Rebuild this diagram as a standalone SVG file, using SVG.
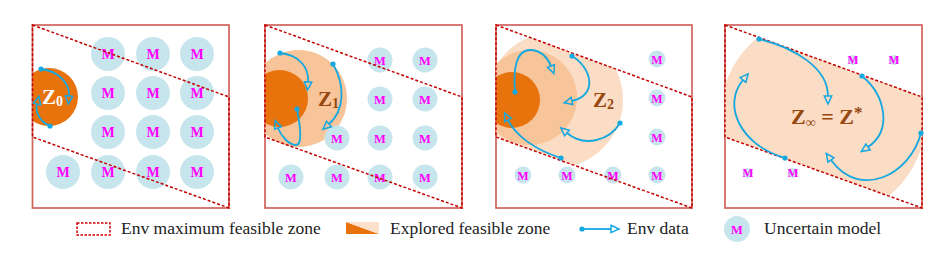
<svg xmlns="http://www.w3.org/2000/svg" width="946" height="260" viewBox="0 0 946 260">
<style>
.box{fill:#fff;stroke:#d0625c;stroke-width:1.7}
.zone{fill:none;stroke:#c40000;stroke-width:1.5;stroke-dasharray:3 2}
.m{fill:#c7e5ed}
.mt{font-family:"Liberation Serif",serif;font-weight:bold;fill:#ff00ff;text-anchor:middle}
.dk{fill:#e8720c}
.md{fill:#f8c49a}
.lt{fill:#fbdcc4}
.arr{fill:none;stroke:#14a8e0;stroke-width:1.8;marker-start:url(#dot);marker-end:url(#head)}
.z{font-family:"Liberation Serif",serif;font-weight:bold;font-size:21px;fill:#96480f}
.lg{font-family:"Liberation Serif",serif;font-size:17.5px;fill:#222}
</style>
<defs>
<marker id="head" markerUnits="userSpaceOnUse" markerWidth="12" markerHeight="10" refX="1" refY="4.5" orient="auto" viewBox="0 0 12 9">
<path d="M1,0.8 L9,4.5 L1,8.2 Z" fill="none" stroke="#14a8e0" stroke-width="1.5" stroke-linejoin="miter"/>
</marker>
<marker id="dot" markerUnits="userSpaceOnUse" markerWidth="6" markerHeight="6" refX="3" refY="3" viewBox="0 0 6 6">
<circle cx="3" cy="3" r="2.6" fill="#14a8e0"/>
</marker>
<clipPath id="c1"><rect x="32.5" y="25" width="196.5" height="183"/></clipPath>
<clipPath id="c2"><rect x="265" y="25" width="197" height="183"/></clipPath>
<clipPath id="c3"><polygon points="496,25 692,97 692,208 496,137"/></clipPath>
<clipPath id="c3b"><rect x="496" y="25" width="196" height="183"/></clipPath>
<clipPath id="c4"><polygon points="725,25 922,97 922,208 725,137"/></clipPath>
</defs>

<g id="panel1">
<rect class="box" x="32.5" y="25" width="196.5" height="183"/>
<circle class="dk" cx="49" cy="97" r="29" clip-path="url(#c1)"/>
<g id="p1-models">
<circle class="m" cx="108" cy="54" r="17"/><circle class="m" cx="153" cy="54" r="17"/><circle class="m" cx="197" cy="54" r="17"/>
<circle class="m" cx="108" cy="93" r="17"/><circle class="m" cx="153" cy="93" r="17"/><circle class="m" cx="197" cy="93" r="17"/>
<circle class="m" cx="108" cy="132" r="17"/><circle class="m" cx="153" cy="132" r="17"/><circle class="m" cx="197" cy="132" r="17"/>
<circle class="m" cx="63" cy="172" r="17"/><circle class="m" cx="108" cy="172" r="17"/><circle class="m" cx="153" cy="172" r="17"/><circle class="m" cx="197" cy="172" r="17"/>
<g class="mt" font-size="14">
<text x="108" y="59">M</text><text x="153" y="59">M</text><text x="197" y="59">M</text>
<text x="108" y="98">M</text><text x="153" y="98">M</text><text x="197" y="98">M</text>
<text x="108" y="137">M</text><text x="153" y="137">M</text><text x="197" y="137">M</text>
<text x="63" y="177">M</text><text x="108" y="177">M</text><text x="153" y="177">M</text><text x="197" y="177">M</text>
</g>
</g>
<polygon class="zone" points="32.5,25 229,97 229,208 32.5,137"/>
<text class="z" x="42" y="104" style="fill:#fff">Z<tspan font-size="14" dy="2">0</tspan></text>
</g>

<g id="panel2">
<rect class="box" x="265" y="25" width="197" height="183"/>
<g clip-path="url(#c2)">
<circle class="md" cx="298.5" cy="98.5" r="48.5"/>
<circle class="dk" cx="279.5" cy="98.5" r="28.5"/>
</g>
<g id="p2-models">
<circle class="m" cx="380" cy="60" r="12.5"/><circle class="m" cx="425" cy="60" r="12.5"/>
<circle class="m" cx="380" cy="99" r="12.5"/><circle class="m" cx="425" cy="99" r="12.5"/>
<circle class="m" cx="337" cy="138" r="12.5"/><circle class="m" cx="380" cy="138" r="12.5"/><circle class="m" cx="425" cy="138" r="12.5"/>
<circle class="m" cx="291" cy="177" r="12.5"/><circle class="m" cx="337" cy="177" r="12.5"/><circle class="m" cx="380" cy="177" r="12.5"/><circle class="m" cx="425" cy="177" r="12.5"/>
<g class="mt" font-size="12.5">
<text x="380" y="64.5">M</text><text x="425" y="64.5">M</text>
<text x="380" y="103.5">M</text><text x="425" y="103.5">M</text>
<text x="337" y="142.5">M</text><text x="380" y="142.5">M</text><text x="425" y="142.5">M</text>
<text x="291" y="181.5">M</text><text x="337" y="181.5">M</text><text x="380" y="181.5">M</text><text x="425" y="181.5">M</text>
</g>
</g>
<polygon class="zone" points="265,25 462,97 462,208 265,137"/>
<text class="z" x="318" y="106">Z<tspan font-size="14" dy="2">1</tspan></text>
</g>

<g id="panel3">
<rect class="box" x="496" y="25" width="196" height="183"/>
<circle class="lt" cx="555" cy="100" r="68" clip-path="url(#c3)"/>
<g clip-path="url(#c3b)">
<circle class="md" cx="529.5" cy="97.5" r="47.5"/>
<circle class="dk" cx="512" cy="100" r="28"/>
</g>
<g id="p3-models">
<circle class="m" cx="657" cy="59" r="8.5"/><circle class="m" cx="657" cy="98" r="8.5"/><circle class="m" cx="657" cy="137" r="8.5"/>
<circle class="m" cx="523" cy="175" r="8.5"/><circle class="m" cx="567" cy="175" r="8.5"/><circle class="m" cx="613" cy="175" r="8.5"/><circle class="m" cx="657" cy="175" r="8.5"/>
<g class="mt" font-size="12">
<text x="657" y="63.5">M</text><text x="657" y="102.5">M</text><text x="657" y="141.5">M</text>
<text x="523" y="179.5">M</text><text x="567" y="179.5">M</text><text x="613" y="179.5">M</text><text x="657" y="179.5">M</text>
</g>
</g>
<polygon class="zone" points="496,25 692,97 692,208 496,137"/>
<text class="z" x="593" y="107">Z<tspan font-size="14" dy="2">2</tspan></text>
</g>

<g id="panel4">
<rect class="box" x="725" y="25" width="197" height="183"/>
<circle class="lt" cx="823" cy="117" r="103" clip-path="url(#c4)"/>
<g id="p4-models">
<circle class="m" cx="853" cy="60" r="5"/><circle class="m" cx="894" cy="60" r="5"/>
<circle class="m" cx="748" cy="173" r="5"/><circle class="m" cx="793" cy="173" r="5"/>
<g class="mt" font-size="11.5">
<text x="853" y="64">M</text><text x="894" y="64">M</text>
<text x="748" y="177">M</text><text x="793" y="177">M</text>
</g>
</g>
<polygon class="zone" points="725,25 922,97 922,208 725,137"/>
<text class="z" x="791" y="124" font-size="22" style="font-size:22px">Z<tspan font-size="14" dy="3">∞</tspan><tspan dy="-3"> = Z</tspan><tspan font-size="17" dy="-6">*</tspan></text>
</g>

<g id="connectors">
<path class="arr" d="M41,69 C60,71 70,85 69,96"/>
<path class="arr" d="M50,126 C40,122 35,112 37,104"/>
<path class="arr" d="M280,53 C300,55 309,68 308,82"/>
<path class="arr" d="M333,64 C345,85 345,110 329,124"/>
<path class="arr" d="M297,109 C300,125 303,145 296,145 C289,145 281,136 278,128"/>
<path class="arr" d="M515,92 C513,70 516,50 530,50 C541,50 548,58 551,66"/>
<path class="arr" d="M572,56 C592,68 598,95 572,101"/>
<path class="arr" d="M620,123 C610,140 585,148 567,133"/>
<path class="arr" d="M561,158 C535,150 515,135 508,120"/>
<path class="arr" d="M759,39 C795,48 828,68 828,96"/>
<path class="arr" d="M862,76 C885,95 893,130 868,147"/>
<path class="arr" d="M921,133 C910,175 860,200 831,160"/>
<path class="arr" d="M785,158 C740,145 722,105 743,80"/>
</g>

<g id="legend">
<rect x="77" y="223" width="33" height="12" fill="none" stroke="#d00000" stroke-width="1.5" stroke-dasharray="2.5 1.5"/>
<text class="lg" x="121" y="234">Env maximum feasible zone</text>
<polygon points="346,222 379,234 346,234" fill="#e8720c"/>
<polygon points="346,222 379,222 379,234" fill="#fde0cc"/>
<text class="lg" x="390" y="234">Explored feasible zone</text>
<path class="arr" d="M582,229 L611,229"/>
<text class="lg" x="627" y="234">Env data</text>
<circle class="m" cx="737" cy="229" r="13"/>
<text class="mt" font-size="12.5" x="737" y="233.5">M</text>
<text class="lg" x="764" y="234">Uncertain model</text>
</g>
</svg>
